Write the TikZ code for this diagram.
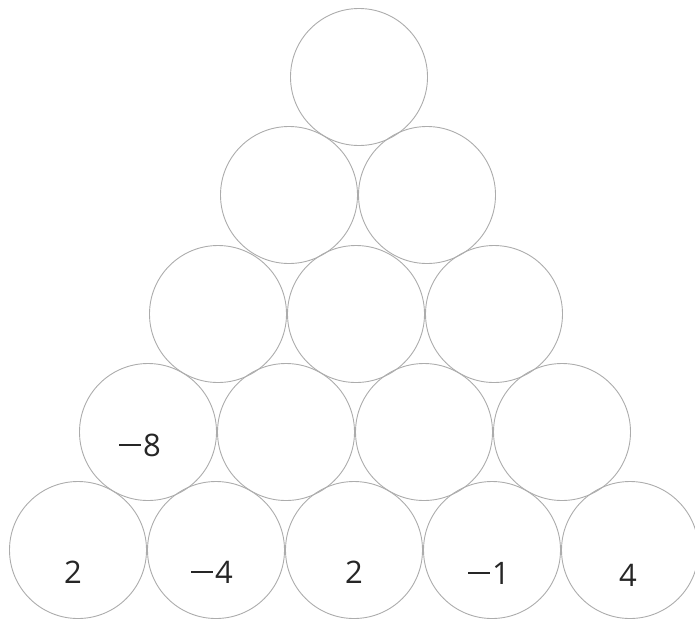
\documentclass[tikz,border=0pt]{standalone}
\usepackage{fontspec}
\setmainfont{Open Sans}
\usepackage{tikz}
\usetikzlibrary{positioning,calc}
\newcommand{\mns}{\rule[0.34em]{0.72em}{0.055em}\hspace{0.06em}}
\tikzset{
ball/.style={
draw=gray!65,
line width=0.9pt,
circle,
minimum size=137pt,
inner sep=0pt
},
num/.style={
font=\fontsize{31}{34}\selectfont,
text=black!85,
inner sep=0pt
}
}
\begin{document}
\begin{tikzpicture}[x=1pt,y=-1pt]
\useasboundingbox (0,0) rectangle (695,619);
% rows from bottom (5 balls) to top (1 ball)
\foreach \r/\n/\dx/\y in {1/5/0/550,2/4/1/432,3/3/2/314,4/2/4/195,5/1/5/77}{
\foreach \c in {1,...,\n}
\node[ball](c\r\c) at ({78+\dx+(5-\n)*69+(\c-1)*138},\y){};
}
% given numbers
\node[num](n1) at ([xshift=-5pt,yshift=-22pt]c11.center){2};
\node[num](n2) at ([xshift=-4pt,yshift=-22pt]c12.center){\mns4};
\node[num](n3) at ([yshift=-22pt]c13.center){2};
\node[num](n4) at ([xshift=-3pt,yshift=-23pt]c14.center){\mns1};
\node[num](n5) at ([xshift=-2pt,yshift=-25pt]c15.center){4};
\node[num](n6) at ([xshift=-8pt,yshift=-13pt]c21.center){\mns8};
\end{tikzpicture}
\end{document}
